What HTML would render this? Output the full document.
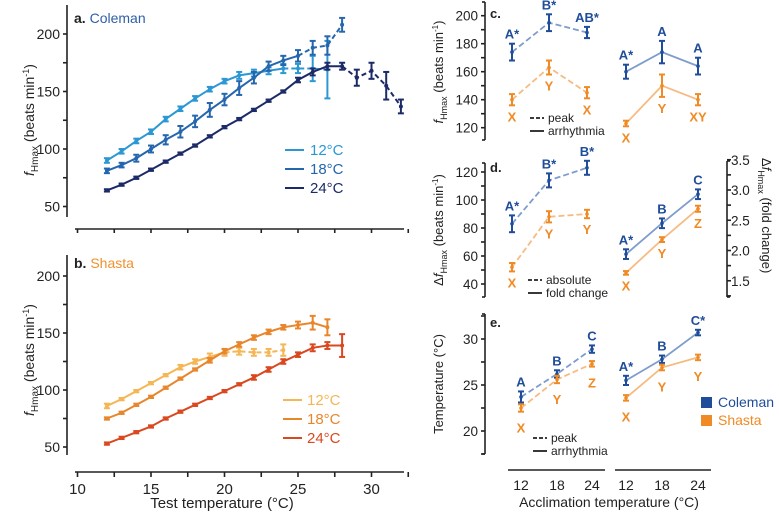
<!DOCTYPE html>
<html><head><meta charset="utf-8">
<style>
html,body{margin:0;padding:0;background:#fff;}
svg{display:block;font-family:"Liberation Sans",Arial,sans-serif;}
</style></head>
<body>
<svg id="fig" width="779" height="514" viewBox="0 0 779 514" xmlns="http://www.w3.org/2000/svg"></svg>
<script>
// ---------- Panel a/b data ----------
const testTemps = [12,13,14,15,16,17,18,19,20,21,22,23,24,25,26,27,28,29,30,31,32];
const colemanAccl12 = [90,98,107,115,126,135,144,152,159,164,166,168,170,170,170,169];
const colemanAccl12Err = [2,2,2,2,2,2,2,2,2,3,3,3,4,4,11,25];
const colemanAccl18 = [81,86,92,100,108,115,124,134,143,153,162,172,177,181,188,190,208];
const colemanAccl18Err = [2,2,3,3,4,5,5,6,5,6,5,4,4,5,6,8,6];
const colemanAccl24 = [64,69,75,82,89,96,103,111,119,126,134,142,150,160,167,172,172,162,168,155,137];
const colemanAccl24Err = [1,1,1,1,1,1,1,1,1,1,1,1,1,2,3,3,3,7,7,12,6];
const shastaAccl12 = [86,92,99,106,113,120,125,129,133,134,133,133,135];
const shastaAccl12Err = [2,1,1,1,1,2,2,3,3,3,3,3,5];
const shastaAccl18 = [75,80,87,94,102,110,118,126,134,140,146,151,155,157,159,155];
const shastaAccl18Err = [1,1,1,1,1,1,1,2,2,2,2,2,2,3,6,7];
const shastaAccl24 = [53,58,63,68,75,81,87,93,99,105,111,118,125,131,137,139,139];
const shastaAccl24Err = [1,1,1,1,1,1,1,1,1,1,2,2,2,2,3,3,10];
// ---------- Panels c/d/e data ----------
const acclCats = ["12","18","24"];
const cPeakCol = [174,195,188], cPeakColErr=[6,6,4];
const cPeakSha = [140,163,145], cPeakShaErr=[4,5,4];
const cArrCol = [160,174,164], cArrColErr=[5,8,6];
const cArrSha = [123,150,140], cArrShaErr=[2,8,4];
const cLblPeakCol=["A*","B*","AB*"], cLblPeakSha=["X","Y","X"], cLblArrCol=["A*","A","A"], cLblArrSha=["X","Y","XY"];
const dAbsCol = [83,114,123], dAbsColErr=[6,5,5];
const dAbsSha = [52,88,90], dAbsShaErr=[3,4,3];
const dFoldCol = [1.94,2.45,2.93], dFoldColErr=[0.08,0.08,0.08];
const dFoldSha = [1.63,2.18,2.69], dFoldShaErr=[0.03,0.04,0.05];
const dLblAbsCol=["A*","B*","B*"], dLblAbsSha=["X","Y","Y"], dLblFoldCol=["A*","B","C"], dLblFoldSha=["X","Y","Z"];
const ePeakCol=[23.7,26.2,28.9], ePeakColErr=[0.6,0.4,0.4];
const ePeakSha=[22.5,25.6,27.3], ePeakShaErr=[0.4,0.4,0.3];
const eArrCol=[25.5,27.8,30.7], eArrColErr=[0.5,0.4,0.3];
const eArrSha=[23.6,26.9,28.0], eArrShaErr=[0.3,0.3,0.3];
const eLblPeakCol=["A","B","C"], eLblPeakSha=["X","Y","Z"], eLblArrCol=["A*","B","C*"], eLblArrSha=["X","Y","Y"];
const ticksA=[50,100,150,200], ticksX=[10,15,20,25,30];
const ticksC=[120,140,160,180,200], ticksD=[40,60,80,100,120], ticksD2=[1.5,2.0,2.5,3.0,3.5], ticksE=[20,25,30];

const NS="http://www.w3.org/2000/svg";
const svg=document.getElementById('fig');
function mk(tag,attrs,name,parent){const e=document.createElementNS(NS,tag);for(const k in attrs)e.setAttribute(k,attrs[k]);


(parent||svg).appendChild(e);return e;}
function txt(x,y,s,name,o){o=o||{};const t=mk('text',{x:x,y:y,'font-size':o.size||13,fill:o.fill||'#222','text-anchor':o.anchor||'middle','font-weight':o.bold?'bold':'normal'},name);
if(o.rot)t.setAttribute('transform','rotate('+o.rot+' '+x+' '+y+')');t.innerHTML=s;return t;}
function line(x1,y1,x2,y2,name,st,w,dash){const l=mk('line',{x1:x1,y1:y1,x2:x2,y2:y2,stroke:st||'#222','stroke-width':w||1.6},name);if(dash)l.setAttribute('stroke-dasharray',dash);return l;}

const xs=t=>77.5+(t-10)*14.7;
const ya=v=>34+(200-v)*1.15;
const yb=v=>276+(200-v)*1.14;

function seriesAB(vals,errs,yf,col,dashFrom,name){
  let d1='',d2='';
  vals.forEach((v,i)=>{const x=xs(testTemps[i]),y=yf(v);
    if(i<=dashFrom)d1+=(i?'L':'M')+x+' '+y;
    if(i>=dashFrom)d2+=(i===dashFrom?'M':'L')+x+' '+y;});
  mk('path',{d:d1,fill:'none',stroke:col,'stroke-width':2},name+'-line');
  if(d2.length&&dashFrom<vals.length-1)mk('path',{d:d2,fill:'none',stroke:col,'stroke-width':2,'stroke-dasharray':'5,3'},name+'-dashed-line');
  vals.forEach((v,i)=>{const x=xs(testTemps[i]);
    line(x,yf(v-errs[i]),x,yf(v+errs[i]),name+'-errorbar',col,2);
    line(x-3,yf(v-errs[i]),x+3,yf(v-errs[i]),name+'-errorcap',col,2);
    line(x-3,yf(v+errs[i]),x+3,yf(v+errs[i]),name+'-errorcap',col,2);
    mk('circle',{cx:x,cy:yf(v),r:2,fill:col},name+'-point');});
}
function yaxisAB(yf,top,bot,name){
  line(67,top,67,bot,name+'-line');
  for(let v=50;v<=200;v+=25){line(63,yf(v),67,yf(v),name+'-tick');}
  ticksA.forEach(v=>txt(60,yf(v)+5,v,name+'-tick-label',{anchor:'end',size:14}));
}
// Panel a
yaxisAB(ya,5,217,'a-y-axis');
line(75,229,404,229,'a-x-axis-line');
for(let t=10;t<=32.5;t+=2.5)line(xs(t),229,xs(t),233,'a-x-tick');
txt(34,120,'<tspan font-style="italic">f</tspan><tspan font-size="10" dy="4">Hmax</tspan><tspan dy="-4"> (beats min</tspan><tspan font-size="9" dy="-5">-1</tspan><tspan dy="5">)</tspan>','a-y-axis-title',{rot:-90,size:14});
txt(74,23,'<tspan font-weight="bold" fill="#222">a.</tspan> Coleman','a-panel-title',{anchor:'start',size:14,fill:'#2e5fa8'});
seriesAB(colemanAccl12,colemanAccl12Err,ya,'#2b98d4',12,'coleman-12c');
seriesAB(colemanAccl18,colemanAccl18Err,ya,'#2566ad',13,'coleman-18c');
seriesAB(colemanAccl24,colemanAccl24Err,ya,'#1c2b68',16,'coleman-24c');
[['12°C','#2b98d4'],['18°C','#2566ad'],['24°C','#1c2b68']].forEach((l,i)=>{const y=150+i*19;
  line(285,y,304,y,'a-legend-swatch',l[1],2);txt(310,y+5,l[0],'a-legend-label',{anchor:'start',size:15,fill:l[1]});});
// Panel b
yaxisAB(yb,255,455,'b-y-axis');
line(75,472,404,472,'b-x-axis-line');
for(let t=10;t<=32.5;t+=2.5)line(xs(t),472,xs(t),477,'b-x-tick');
ticksX.forEach(t=>txt(xs(t),494,t,'b-x-tick-label',{size:15}));
txt(222,508,'Test temperature  (°C)','x-axis-title',{size:15});
txt(34,360,'<tspan font-style="italic">f</tspan><tspan font-size="10" dy="4">Hmax</tspan><tspan dy="-4"> (beats min</tspan><tspan font-size="9" dy="-5">-1</tspan><tspan dy="5">)</tspan>','b-y-axis-title',{rot:-90,size:14});
txt(74,268,'<tspan font-weight="bold" fill="#222">b.</tspan> Shasta','b-panel-title',{anchor:'start',size:14,fill:'#f0912c'});
seriesAB(shastaAccl12,shastaAccl12Err,yb,'#f5b655',8,'shasta-12c');
seriesAB(shastaAccl18,shastaAccl18Err,yb,'#e8862c',15,'shasta-18c');
seriesAB(shastaAccl24,shastaAccl24Err,yb,'#d9481f',16,'shasta-24c');
[['12°C','#f5b655'],['18°C','#e8862c'],['24°C','#d9481f']].forEach((l,i)=>{const y=400+i*19;
  line(283,y,302,y,'b-legend-swatch',l[1],2);txt(307,y+5,l[0],'b-legend-label',{anchor:'start',size:15,fill:l[1]});});

// ---------- Right panels ----------
const COLP='#1f4d9a',COLL='#7e9dcd',SHAP='#f08a24',SHAL='#f6bb82';
const xL=[512,549,587],xR=[626,662,698],xLe=[521,557,592];
function ser(xarr,vals,errs,yf,pcol,lcol,dash,lbls,above,name,lblOff){
  let d='';vals.forEach((v,i)=>d+=(i?'L':'M')+xarr[i]+' '+yf(v));
  const p=mk('path',{d:d,fill:'none',stroke:lcol,'stroke-width':1.8},name+'-line');if(dash)p.setAttribute('stroke-dasharray','6,3');
  vals.forEach((v,i)=>{const x=xarr[i],lo=yf(v-errs[i]),hi=yf(v+errs[i]);
    line(x,lo,x,hi,name+'-errorbar',pcol,2);line(x-3,lo,x+3,lo,name+'-errorcap',pcol,2);line(x-3,hi,x+3,hi,name+'-errorcap',pcol,2);
    mk('circle',{cx:x,cy:yf(v),r:1.8,fill:pcol},name+'-point');
    const off=lblOff||9;
    txt(x,above?hi-5:lo+off+7,lbls[i],name+'-letter',{size:13,bold:true,fill:pcol});});
}
function legendLines(x,y,a,b,name){
  line(x,y,x+14,y,name+'-dashed-swatch','#222',1.8,'4,2');txt(x+18,y+4,a,name+'-label',{anchor:'start',size:12});
  line(x,y+13,x+14,y+13,name+'-solid-swatch','#222',1.8);txt(x+18,y+17,b,name+'-label',{anchor:'start',size:12});
}
// Panel c
const yc=v=>15.7+(200-v)*1.4;
line(485,2,485,140,'c-y-axis-line');line(482,2,485,2,'c-y-axis-cap');line(482,140,485,140,'c-y-axis-cap');
for(let v=120;v<=200;v+=10)line(481,yc(v),485,yc(v),'c-y-tick');
ticksC.forEach(v=>txt(478,yc(v)+5,v,'c-y-tick-label',{anchor:'end',size:13.5}));
txt(443,72,'<tspan font-style="italic">f</tspan><tspan font-size="9" dy="4">Hmax</tspan><tspan dy="-4"> (beats min</tspan><tspan font-size="8" dy="-5">-1</tspan><tspan dy="5">)</tspan>','c-y-axis-title',{rot:-90,size:13});
txt(490,18,'c.','c-panel-label',{anchor:'start',size:13,bold:true});
ser(xL,cPeakCol,cPeakColErr,yc,COLP,COLL,true,cLblPeakCol,true,'c-coleman-peak');
ser(xL,cPeakSha,cPeakShaErr,yc,SHAP,SHAL,true,cLblPeakSha,false,'c-shasta-peak');
ser(xR,cArrCol,cArrColErr,yc,COLP,COLL,false,cLblArrCol,true,'c-coleman-arrhythmia');
ser(xR,cArrSha,cArrShaErr,yc,SHAP,SHAL,false,cLblArrSha,false,'c-shasta-arrhythmia');
legendLines(530,118,'peak','arrhythmia','c-legend');
// Panel d
const yd=v=>172+(120-v)*1.4;
const yd2=f=>190+(3-f)*60.5;
line(485,163,485,297,'d-y-axis-line');line(482,163,485,163,'d-y-axis-cap');line(482,297,485,297,'d-y-axis-cap');
for(let v=40;v<=120;v+=10)line(481,yd(v),485,yd(v),'d-y-tick');
ticksD.forEach(v=>txt(478,yd(v)+5,v,'d-y-tick-label',{anchor:'end',size:13.5}));
txt(443,230,'Δ<tspan font-style="italic">f</tspan><tspan font-size="9" dy="4">Hmax</tspan><tspan dy="-4"> (beats min</tspan><tspan font-size="8" dy="-5">-1</tspan><tspan dy="5">)</tspan>','d-y-axis-title',{rot:-90,size:13});
line(727,161,727,297,'d-right-axis-line');line(727,161,730,161,'d-right-axis-cap');line(727,297,730,297,'d-right-axis-cap');
for(let f=1.25;f<=3.5;f+=0.25)line(727,yd2(f),731,yd2(f),'d-right-tick');
ticksD2.forEach(f=>txt(731,yd2(f)+5,f.toFixed(1),'d-right-tick-label',{anchor:'start',size:13.5}));
txt(762,158,'Δ<tspan font-style="italic">f</tspan><tspan font-size="9" dy="4">Hmax</tspan><tspan dy="-4"> (fold change)</tspan>','d-right-axis-title',{rot:90,anchor:'start',size:13});
txt(490,172,'d.','d-panel-label',{anchor:'start',size:13,bold:true});
ser(xL,dAbsCol,dAbsColErr,yd,COLP,COLL,true,dLblAbsCol,true,'d-coleman-absolute');
ser(xL,dAbsSha,dAbsShaErr,yd,SHAP,SHAL,true,dLblAbsSha,false,'d-shasta-absolute');
ser(xR,dFoldCol,dFoldColErr,yd2,COLP,COLL,false,dLblFoldCol,true,'d-coleman-fold');
ser(xR,dFoldSha,dFoldShaErr,yd2,SHAP,SHAL,false,dLblFoldSha,false,'d-shasta-fold');
legendLines(528,280,'absolute','fold change','d-legend');
// Panel e
const ye=v=>385+(25-v)*9.2;
line(485,314,485,454,'e-y-axis-line');line(482,314,485,314,'e-y-axis-cap');line(482,454,485,454,'e-y-axis-cap');
for(let v=17.5;v<=32.5;v+=2.5)line(481,ye(v),485,ye(v),'e-y-tick');
ticksE.forEach(v=>txt(478,ye(v)+5,v,'e-y-tick-label',{anchor:'end',size:13.5}));
txt(443,384,'Temperature  (°C)','e-y-axis-title',{rot:-90,size:13});
txt(490,327,'e.','e-panel-label',{anchor:'start',size:13,bold:true});
ser(xLe,ePeakCol,ePeakColErr,ye,COLP,COLL,true,eLblPeakCol,true,'e-coleman-peak');
ser(xLe,ePeakSha,ePeakShaErr,ye,SHAP,SHAL,true,eLblPeakSha,false,'e-shasta-peak',14);
ser(xR,eArrCol,eArrColErr,ye,COLP,COLL,false,eLblArrCol,true,'e-coleman-arrhythmia');
ser(xR,eArrSha,eArrShaErr,ye,SHAP,SHAL,false,eLblArrSha,false,'e-shasta-arrhythmia',14);
legendLines(533,438,'peak','arrhythmia','e-legend');
// bottom x axes
line(508,470,605,470,'e-x-axis-left-line');line(615,470,711,470,'e-x-axis-right-line');
acclCats.forEach((c,i)=>{txt(xLe[i],490,c,'e-x-tick-label',{size:14});txt(xR[i],490,c,'e-x-tick-label',{size:14});});
txt(609,507,'Acclimation temperature  (°C)','e-x-axis-title',{size:14});
// population legend
mk('rect',{x:701,y:397,width:11,height:11,fill:COLP},'legend-coleman-swatch');
txt(718,407,'Coleman','legend-coleman-label',{anchor:'start',size:14,fill:COLP});
mk('rect',{x:701,y:415,width:11,height:11,fill:SHAP},'legend-shasta-swatch');
txt(718,425,'Shasta','legend-shasta-label',{anchor:'start',size:14,fill:SHAP});
</script>
</body></html>
